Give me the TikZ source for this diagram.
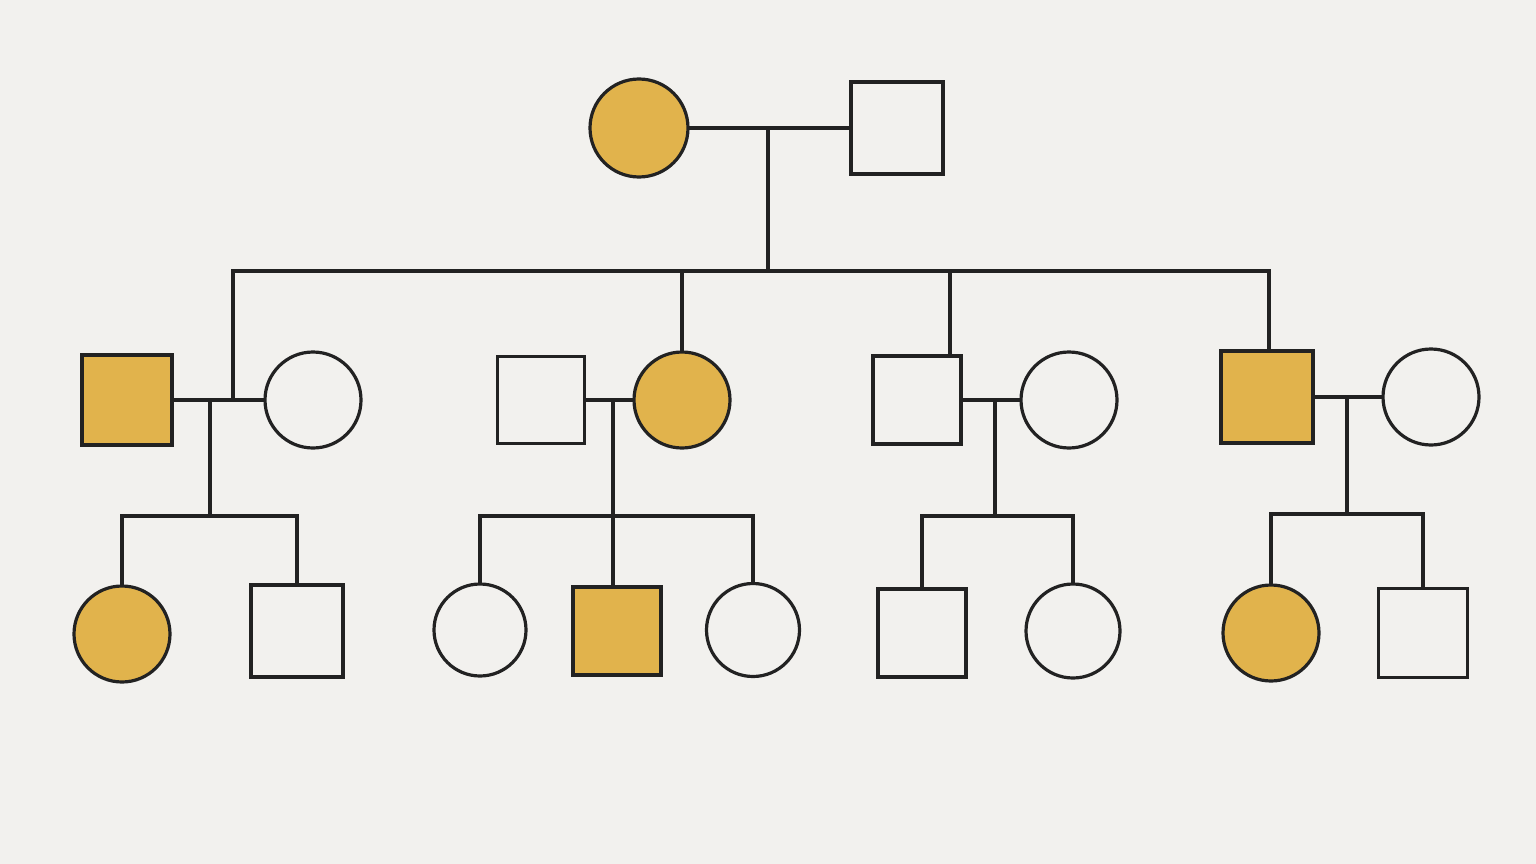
\documentclass[tikz,border=0pt]{standalone}
\begin{document}
\begin{tikzpicture}[x=1pt,y=-1pt,
  every node/.style={draw=lineclr,line width=3.2pt,inner sep=0pt,outer sep=0pt},
  fem/.style={circle,minimum size=#1,fill=paper},
  mal/.style={rectangle,minimum width=#1,minimum height=#1,fill=paper},
  aff/.style={fill=gold},
  link/.style={draw=lineclr,line width=3.2pt,line cap=butt},
  bar/.style={draw=lineclr,line width=3.2pt,line cap=rect}]
\definecolor{paper}{HTML}{F2F1EE}
\definecolor{gold}{HTML}{E1B34C}
\definecolor{lineclr}{HTML}{222222}
\fill[paper] (0,0) rectangle (1536,864);
\useasboundingbox (0,0) rectangle (1536,864);
% Generation I
\node[fem=98pt,aff] (g1f) at (639,128) {};
\node[mal=92pt] (g1m) at (897,128) {};
% Generation II
\node[mal=90pt,aff] (a1) at (127,400) {};
\node[fem=96pt] (a2) at (313,400) {};
\node[mal=87pt] (b1) at (541,400) {};
\node[fem=96pt,aff] (b2) at (682,400) {};
\node[mal=88pt] (c1) at (917,400) {};
\node[fem=96pt] (c2) at (1069,400) {};
\node[mal=92pt,aff] (d1) at (1267,397) {};
\node[fem=96pt] (d2) at (1431,397) {};
% Generation III
\node[fem=96pt,aff] (a3) at (122,634) {};
\node[mal=92pt] (a4) at (297,631) {};
\node[fem=92pt] (b3) at (480,630) {};
\node[mal=88pt,aff] (b4) at (617,631) {};
\node[fem=93pt] (b5) at (753,630) {};
\node[mal=88pt] (c3) at (922,633) {};
\node[fem=94pt] (c4) at (1073,631) {};
\node[fem=96pt,aff] (d3) at (1271,633) {};
\node[mal=89pt] (d4) at (1423,633) {};
% junction coordinates
\coordinate (m0) at (768,128);
\coordinate (s0m) at (768,271);
\coordinate (s0l) at (233,271);
\coordinate (s0r) at (1269,271);
\coordinate (ma) at (233,400);
\coordinate (ka) at (210,400);
\coordinate (sa) at (210,516);
\coordinate (kb) at (613,400);
\coordinate (sb) at (613,516);
\coordinate (kc) at (995,400);
\coordinate (sc) at (995,516);
\coordinate (kd) at (1347,397);
\coordinate (sd) at (1347,514);
% Gen I mating and sibship
\draw[link] (g1f.east) -- (g1m.west);
\draw[link] (m0) -- (s0m);
\draw[bar] (s0l) -- (s0r);
\draw[link] (s0l) -- (ma);
\draw[link] (s0m -| b2) -- (b2.north);
\draw[link] (950,271) coordinate (s0c) -- (s0c |- c1.north);
\draw[link] (s0r) -- (s0r |- d1.north);
% Gen II matings
\draw[link] (a1.east) -- (a2.west);
\draw[link] (b1.east) -- (b2.west);
\draw[link] (c1.east) -- (c2.west);
\draw[link] (d1.east) -- (d2.west);
% descent lines
\draw[link] (ka) -- (sa);
\draw[bar] (sa -| a3) -- (sa -| a4);
\draw[link] (sa -| a3) -- (a3.north);
\draw[link] (sa -| a4) -- (a4.north);
\draw[link] (kb) -- (sb);
\draw[bar] (sb -| b3) -- (sb -| b5);
\draw[link] (sb -| b3) -- (b3.north);
\draw[link] (sb) -- (sb |- b4.north);
\draw[link] (sb -| b5) -- (b5.north);
\draw[link] (kc) -- (sc);
\draw[bar] (sc -| c3) -- (sc -| c4);
\draw[link] (sc -| c3) -- (c3.north);
\draw[link] (sc -| c4) -- (c4.north);
\draw[link] (kd) -- (sd);
\draw[bar] (sd -| d3) -- (sd -| d4);
\draw[link] (sd -| d3) -- (d3.north);
\draw[link] (sd -| d4) -- (d4.north);
\end{tikzpicture}
\end{document}
